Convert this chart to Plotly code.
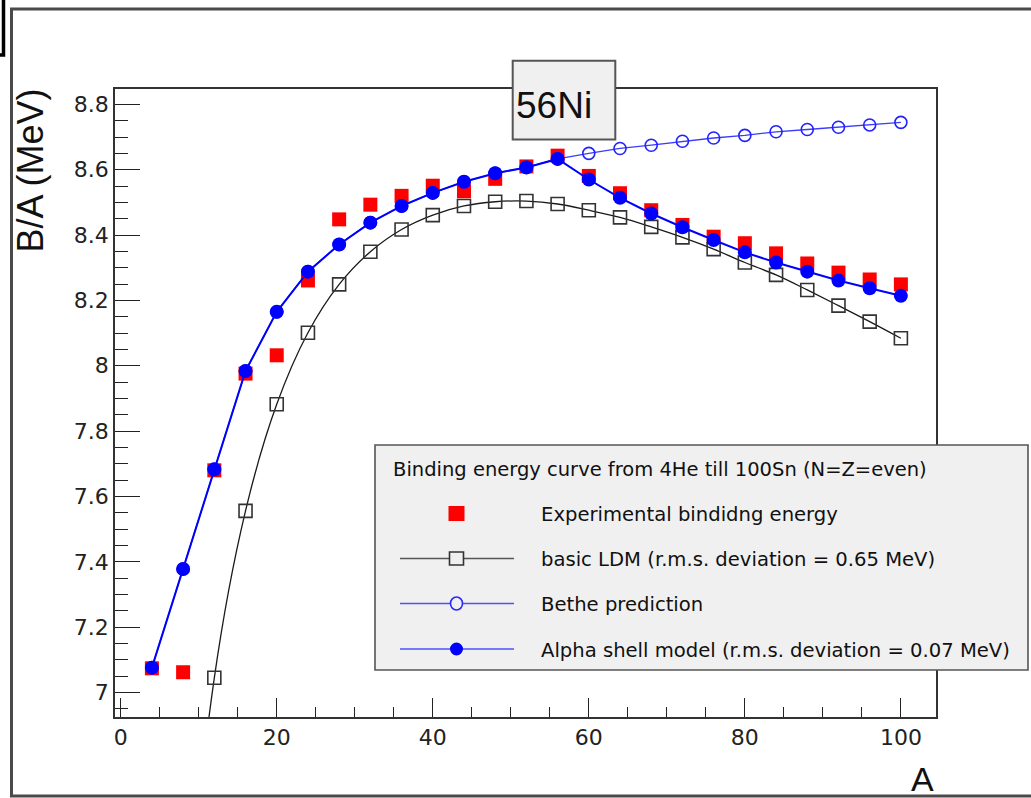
import plotly.graph_objects as go

# Mass number A for N=Z even nuclei, 4He ... 100Sn
mass_number = [4, 8, 12, 16, 20, 24, 28, 32, 36, 40, 44, 48, 52,
               56, 60, 64, 68, 72, 76, 80, 84, 88, 92, 96, 100]

# Binding energy per nucleon, MeV
exp_ba = [7.074, 7.062, 7.680, 7.976, 8.032, 8.261, 8.448, 8.493, 8.520,
          8.551, 8.534, 8.572, 8.610, 8.643, 8.581, 8.528, 8.476, 8.431,
          8.395, 8.375, 8.344, 8.313, 8.285, 8.264, 8.249]
ldm_ba = [4.00, 6.10, 7.045, 7.556, 7.882, 8.101, 8.249, 8.349, 8.417,
          8.461, 8.489, 8.502, 8.504, 8.495, 8.476, 8.454, 8.425, 8.393,
          8.357, 8.316, 8.278, 8.232, 8.184, 8.135, 8.084]
bethe_ba = [7.076, 7.378, 7.683, 7.984, 8.165, 8.288, 8.371, 8.438, 8.489,
            8.529, 8.563, 8.589, 8.607, 8.633, 8.650, 8.665, 8.675, 8.687,
            8.697, 8.705, 8.716, 8.723, 8.730, 8.737, 8.745]
alpha_ba = [7.076, 7.378, 7.683, 7.984, 8.165, 8.288, 8.371, 8.438, 8.489,
            8.529, 8.563, 8.589, 8.607, 8.633, 8.570, 8.514, 8.466, 8.424,
            8.385, 8.347, 8.316, 8.288, 8.261, 8.237, 8.214]

legend_header = "Binding energy curve from 4He till 100Sn (N=Z=even)"
legend_labels = ["Experimental bindidng energy",
                 "basic LDM (r.m.s. deviation = 0.65 MeV)",
                 "Bethe prediction",
                 "Alpha shell model (r.m.s. deviation = 0.07 MeV)"]

W, H = 1031, 798
L, R, T, B = 115, 936, 89, 717  # plot frame in pixels


def px(x):
    return (x - L) / (R - L)


def py(y):
    return (B - y) / (B - T)


TXT = "Liberation Sans, Arial, sans-serif"
WIDE = "DejaVu Sans, sans-serif"
BLUE = "#0000ff"

fig = go.Figure()
fig.add_trace(go.Scatter(
    x=mass_number, y=exp_ba, mode="markers", name=legend_labels[0],
    marker=dict(symbol="square", size=14, color="#ff0000", line_width=0)))
fig.add_trace(go.Scatter(
    x=mass_number, y=ldm_ba, mode="lines+markers", name=legend_labels[1],
    line=dict(color="#1a1a1a", width=1.3, shape="spline", smoothing=1.0),
    marker=dict(symbol="square-open", size=13, color="#333333",
                line=dict(width=1.6))))
fig.add_trace(go.Scatter(
    x=mass_number, y=bethe_ba, mode="lines+markers", name=legend_labels[2],
    line=dict(color="#3b3bff", width=1.3),
    marker=dict(symbol="circle-open", size=12, color="#2222ff",
                line=dict(width=1.6))))
fig.add_trace(go.Scatter(
    x=mass_number, y=alpha_ba, mode="lines+markers", name=legend_labels[3],
    line=dict(color=BLUE, width=2),
    marker=dict(symbol="circle", size=14, color=BLUE, line_width=0)))

axis_common = dict(
    showline=True, linecolor="#333333", linewidth=1.5, mirror=True,
    ticks="inside", tickcolor="#222222", tickwidth=1.3,
    showgrid=False, zeroline=False,
    tickfont=dict(family=WIDE, size=22, color="#222222"),
)

fig.update_xaxes(range=[-0.73, 104.5], tickmode="linear", tick0=0, dtick=20,
                 ticklen=19,
                 minor=dict(ticks="inside", dtick=5, tick0=0, ticklen=10,
                            tickcolor="#222222", tickwidth=1.3),
                 **axis_common)
fig.update_yaxes(range=[6.925, 8.847], tickmode="linear", tick0=0, dtick=0.2,
                 ticklen=25,
                 minor=dict(ticks="inside", dtick=0.05, tick0=0, ticklen=13,
                            tickcolor="#222222", tickwidth=1.3),
                 **axis_common)

shapes = []
annotations = []

# canvas border and window corner
shapes.append(dict(type="path", xref="paper", yref="paper",
                   path=f"M {px(1040)},{py(9)} L {px(11.5)},{py(9)} "
                        f"L {px(11.5)},{py(796)} L {px(1040)},{py(796)}",
                   line=dict(color="#4a4a4a", width=3)))
shapes.append(dict(type="path", xref="paper", yref="paper",
                   path=f"M {px(-2)},{py(55)} L {px(3.5)},{py(55)} L {px(3.5)},{py(-2)}",
                   line=dict(color="#000000", width=3.5)))

# title box
shapes.append(dict(type="rect", xref="paper", yref="paper",
                   x0=px(512.7), x1=px(615.3), y0=py(139.5), y1=py(60.7),
                   fillcolor="#f0f0f0", line=dict(color="#555555", width=2)))
annotations.append(dict(text="56Ni", xref="paper", yref="paper",
                        x=px(514), y=py(105), xanchor="left", yanchor="middle",
                        showarrow=False,
                        font=dict(family=TXT, size=37, color="#111111")))

# legend box
shapes.append(dict(type="rect", xref="paper", yref="paper",
                   x0=px(375), x1=px(1028), y0=py(670), y1=py(445),
                   fillcolor="#f0f0f0", line=dict(color="#555555", width=1.6)))
annotations.append(dict(text=legend_header, xref="paper", yref="paper",
                        x=px(391), y=py(470), xanchor="left", yanchor="middle",
                        showarrow=False,
                        font=dict(family=WIDE, size=19.5, color="#111111")))

row_y = [513.5, 558.5, 603.5, 649]
key_x, key_l, key_r, text_x = 456.5, 400, 514, 539

# experimental key
shapes.append(dict(type="rect", xref="paper", yref="paper",
                   xsizemode="pixel", ysizemode="pixel",
                   xanchor=px(key_x), yanchor=py(row_y[0]),
                   x0=-8, x1=8, y0=-7.5, y1=7.5,
                   fillcolor="#ff0000", line_width=0))
# LDM key
shapes.append(dict(type="line", xref="paper", yref="paper",
                   x0=px(key_l), x1=px(key_r), y0=py(row_y[1]), y1=py(row_y[1]),
                   line=dict(color="#555555", width=1.6)))
shapes.append(dict(type="rect", xref="paper", yref="paper",
                   xsizemode="pixel", ysizemode="pixel",
                   xanchor=px(key_x), yanchor=py(row_y[1]),
                   x0=-7, x1=7, y0=-6.5, y1=6.5,
                   fillcolor="#f0f0f0", line=dict(color="#333333", width=1.6)))
# Bethe key
shapes.append(dict(type="line", xref="paper", yref="paper",
                   x0=px(key_l), x1=px(key_r), y0=py(row_y[2]), y1=py(row_y[2]),
                   line=dict(color="#5050ff", width=1.6)))
shapes.append(dict(type="circle", xref="paper", yref="paper",
                   xsizemode="pixel", ysizemode="pixel",
                   xanchor=px(key_x), yanchor=py(row_y[2]),
                   x0=-6, x1=6, y0=-6.5, y1=6.5,
                   fillcolor="#f0f0f0", line=dict(color="#2a2aff", width=1.6)))
# alpha key
shapes.append(dict(type="line", xref="paper", yref="paper",
                   x0=px(key_l), x1=px(key_r), y0=py(row_y[3]), y1=py(row_y[3]),
                   line=dict(color="#5050ff", width=1.6)))
shapes.append(dict(type="circle", xref="paper", yref="paper",
                   xsizemode="pixel", ysizemode="pixel",
                   xanchor=px(key_x), yanchor=py(row_y[3]),
                   x0=-6.5, x1=6.5, y0=-6.5, y1=6.5,
                   fillcolor=BLUE, line_width=0))

for label, yy in zip(legend_labels, row_y):
    annotations.append(dict(text=label, xref="paper", yref="paper",
                            x=px(text_x), y=py(yy + 1), xanchor="left",
                            yanchor="middle", showarrow=False,
                            font=dict(family=WIDE, size=19.6, color="#111111")))

# axis titles
annotations.append(dict(text="B/A (MeV)", xref="paper", yref="paper",
                        x=px(30), y=py(170.5), xanchor="center",
                        yanchor="middle", textangle=-90, showarrow=False,
                        font=dict(family=TXT, size=36, color="#111111")))
annotations.append(dict(text="A", xref="paper", yref="paper",
                        x=px(936), y=py(778.5), xanchor="right",
                        yanchor="middle", showarrow=False,
                        font=dict(family=TXT, size=34, color="#111111")))

fig.update_layout(
    width=W, height=H,
    margin=dict(l=L, r=W - R, t=T, b=H - B, pad=0),
    paper_bgcolor="#ffffff", plot_bgcolor="#ffffff",
    showlegend=False,
    shapes=shapes, annotations=annotations,
)

fig.write_html("out.html")
